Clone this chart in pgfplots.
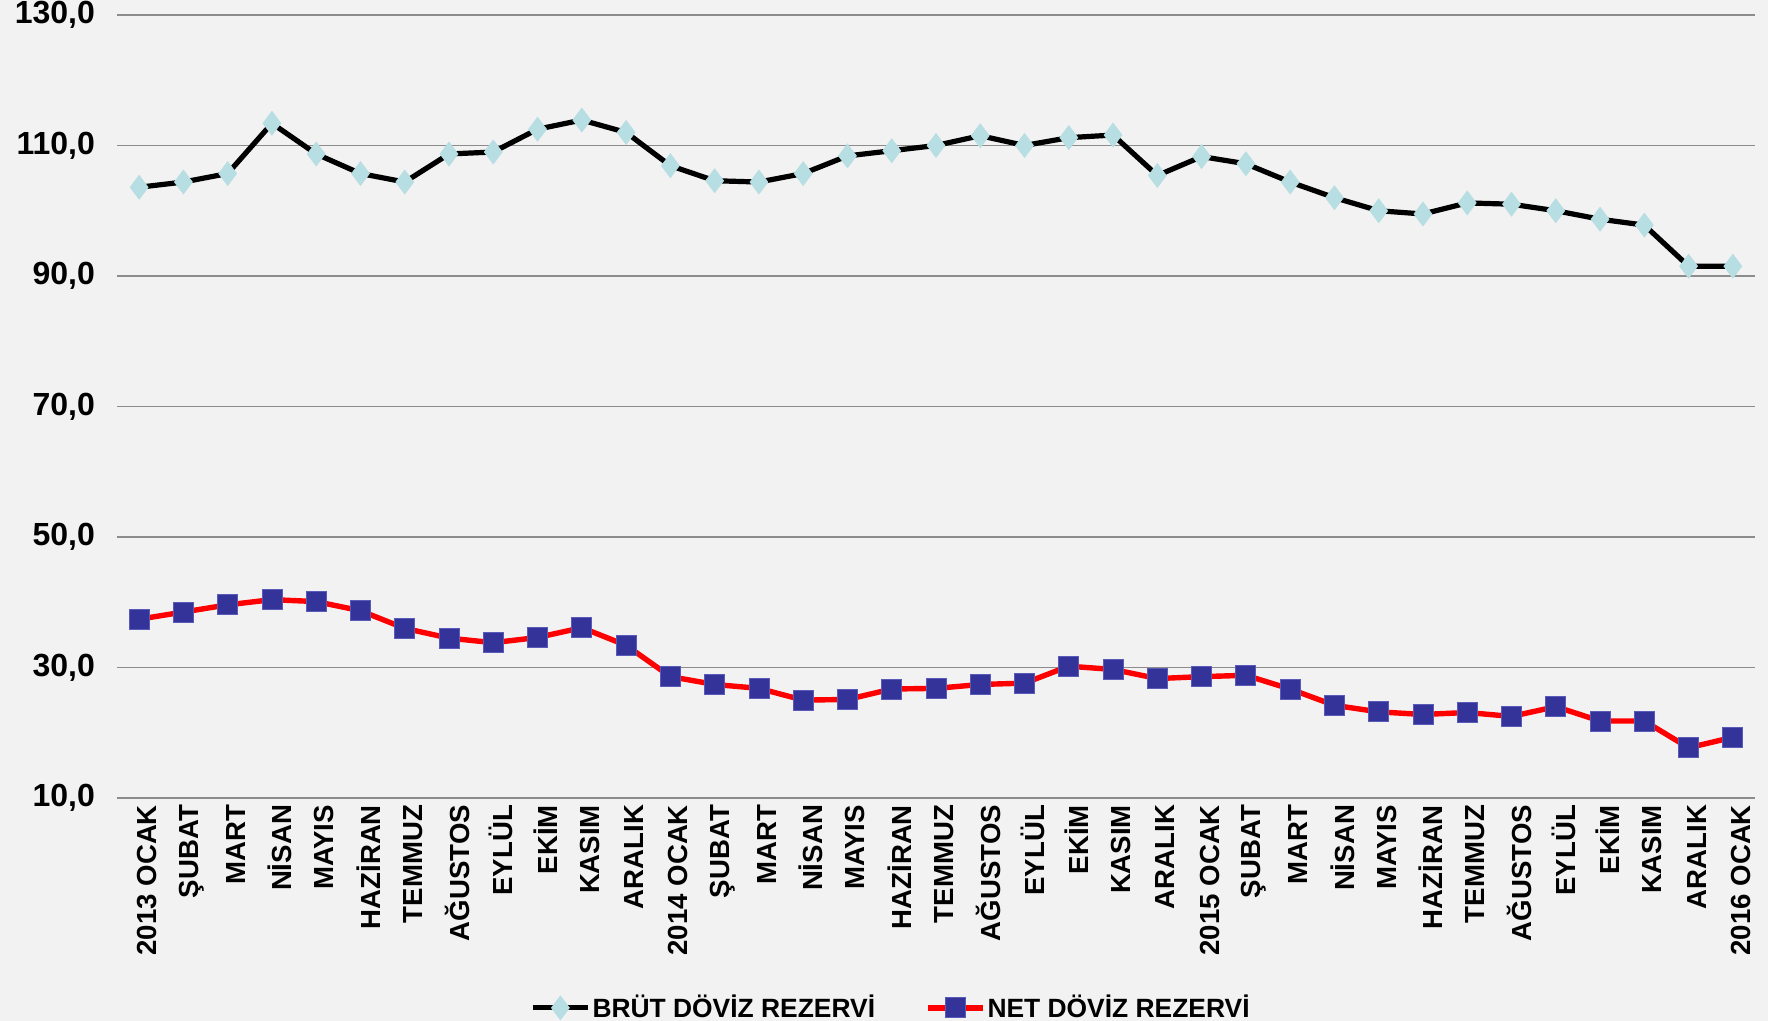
\documentclass[border=0pt]{standalone}
\usepackage{fontspec}
\setmainfont{Liberation Sans}
\usepackage{pgfplots}
\pgfplotsset{compat=1.18}

\definecolor{bg}{HTML}{F2F2F2}
\definecolor{gridc}{HTML}{8C8C8C}
\definecolor{dia}{HTML}{B7DEE2}
\definecolor{navy}{HTML}{333399}
\definecolor{navyedge}{HTML}{5A5AB8}

% BRÜT DÖVİZ REZERVİ
\pgfplotstableread{
x y
0 103.6
1 104.4
2 105.7
3 113.4
4 108.7
5 105.7
6 104.4
7 108.7
8 109.0
9 112.5
10 113.9
11 112.0
12 106.9
13 104.6
14 104.4
15 105.7
16 108.4
17 109.2
18 110.0
19 111.5
20 110.0
21 111.2
22 111.6
23 105.4
24 108.3
25 107.2
26 104.4
27 102.0
28 100.0
29 99.5
30 101.2
31 101.0
32 100.0
33 98.7
34 97.8
35 91.5
36 91.5
}\brut

% NET DÖVİZ REZERVİ
\pgfplotstableread{
x y
0 37.4
1 38.5
2 39.6
3 40.4
4 40.1
5 38.7
6 36.0
7 34.5
8 33.8
9 34.6
10 36.1
11 33.4
12 28.6
13 27.4
14 26.8
15 25.0
16 25.1
17 26.7
18 26.8
19 27.4
20 27.6
21 30.2
22 29.7
23 28.3
24 28.6
25 28.8
26 26.7
27 24.2
28 23.2
29 22.8
30 23.1
31 22.5
32 24.0
33 21.8
34 21.8
35 17.7
36 19.3
}\net

\begin{document}
\begin{tikzpicture}
\fill[bg] (-58.5pt,-111.5pt) rectangle (825.5pt,399pt);
\begin{axis}[
  at={(0pt,0pt)}, anchor=south west,
  scale only axis, width=819pt, height=391.5pt,
  xmin=-0.5, xmax=36.5, ymin=10, ymax=130,
  ytick={10,30,...,130},
  xtick={0,...,36},
  xticklabels={2013 OCAK,ŞUBAT,MART,NİSAN,MAYIS,HAZİRAN,TEMMUZ,AĞUSTOS,EYLÜL,EKİM,KASIM,ARALIK,
    2014 OCAK,ŞUBAT,MART,NİSAN,MAYIS,HAZİRAN,TEMMUZ,AĞUSTOS,EYLÜL,EKİM,KASIM,ARALIK,
    2015 OCAK,ŞUBAT,MART,NİSAN,MAYIS,HAZİRAN,TEMMUZ,AĞUSTOS,EYLÜL,EKİM,KASIM,ARALIK,
    2016 OCAK},
  axis line style={draw=none},
  major tick length=0pt,
  ymajorgrids, grid style={gridc, line width=0.9pt},
  /pgf/number format/.cd, fixed, fixed zerofill, precision=1, use comma, assume math mode=true,
  /pgfplots/.cd,
  yticklabel style={font=\fontsize{16}{17}\selectfont\bfseries, anchor=east, xshift=-7.5pt},
  xticklabel style={font=\fontsize{13.8}{14}\selectfont\bfseries, rotate=90, anchor=east, yshift=-4pt},
  legend style={at={(0.4725,-0.268)}, anchor=center, draw=none, fill=none,
    legend columns=2, font=\fontsize{13.2}{14}\selectfont\bfseries,
    /tikz/every even column/.append style={column sep=24pt},
    nodes={inner sep=1pt}},
  legend image code/.code={\draw[mark repeat=2,mark phase=2] plot coordinates {(0pt,0pt)(13.75pt,0pt)(27.5pt,0pt)};},
]
\addplot[black, line width=2.6pt, mark=diamond*, mark size=6pt,
  mark options={fill=dia, draw=dia, line width=0.3pt}] table[x=x,y=y] {\brut};
\addlegendentry{BRÜT DÖVİZ REZERVİ}
\addplot[red, line width=2.7pt, mark=square*, mark size=5pt,
  mark options={fill=navy, draw=navyedge, line width=0.4pt}] table[x=x,y=y] {\net};
\addlegendentry{NET DÖVİZ REZERVİ}
\end{axis}
\pgfresetboundingbox
\useasboundingbox (-58.5pt,-111.5pt) rectangle (825.5pt,399pt);
\end{tikzpicture}
\end{document}
